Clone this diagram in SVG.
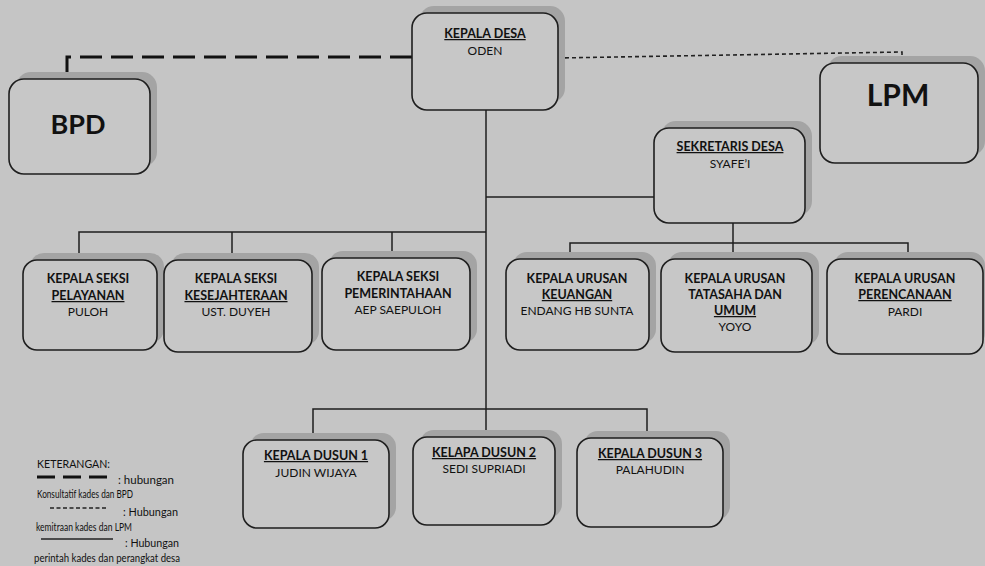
<svg xmlns="http://www.w3.org/2000/svg" width="985" height="566" viewBox="0 0 985 566">
<defs>
<style>
.bg{fill:#c5c5c5}
.sh{fill:#a4a4a4}
.box{fill:#c7c7c7;stroke:#1e1e1e;stroke-width:1.6}
.ln{fill:none;stroke:#1e1e1e;stroke-width:1.5}
.dash{fill:none;stroke:#111;stroke-width:3;stroke-dasharray:22 9}
.dot{fill:none;stroke:#222;stroke-width:1.6;stroke-dasharray:4 3}
text{font-family:Lato,"Liberation Sans",sans-serif;fill:#111;text-anchor:middle}
.b{font-weight:bold;font-size:12.5px}
.n{font-size:12px}
.u{text-decoration:underline}
.big{font-weight:bold;font-size:27px}
.lg{font-size:11px;text-anchor:start}
</style>
</defs>
<rect class="bg" x="0" y="0" width="985" height="566"/>

<g id="connectors">
  <polyline class="dash" points="412,57 67,57 67,79"/>
  <polyline class="dot" points="558,58 902,52 902,63"/>
  <line class="ln" x1="486" y1="110" x2="486" y2="437"/>
  <line class="ln" x1="486" y1="197" x2="654" y2="197"/>
  <polyline class="ln" points="79,260 79,232 486,232"/>
  <line class="ln" x1="232" y1="232" x2="232" y2="260"/>
  <line class="ln" x1="392" y1="232" x2="392" y2="258"/>
  <line class="ln" x1="733" y1="223" x2="733" y2="259"/>
  <polyline class="ln" points="570,259 570,243 908,243 908,259"/>
  <polyline class="ln" points="313,440 313,409 647,409 647,438"/>
</g>

<g id="kepala-desa">
  <rect class="sh" x="419" y="6" width="146" height="97" rx="15"/>
  <rect class="box" x="412" y="13" width="146" height="97" rx="15"/>
  <text class="b u" x="485" y="38">KEPALA DESA</text>
  <text class="n" x="485" y="55">ODEN</text>
</g>

<g id="bpd">
  <rect class="sh" x="16" y="72" width="141" height="95" rx="15"/>
  <rect class="box" x="9" y="79" width="141" height="95" rx="15"/>
  <text class="big" x="78" y="134">BPD</text>
</g>

<g id="lpm">
  <rect class="sh" x="827" y="56" width="158" height="100" rx="15"/>
  <rect class="box" x="820" y="63" width="158" height="100" rx="15"/>
  <text class="big" style="font-size:30px" x="898" y="106">LPM</text>
</g>

<g id="sekretaris-desa">
  <rect class="sh" x="661" y="121" width="151" height="95" rx="15"/>
  <rect class="box" x="654" y="128" width="151" height="95" rx="15"/>
  <text class="b u" x="730" y="151">SEKRETARIS DESA</text>
  <text class="n" x="730" y="168">SYAFE’I</text>
</g>

<g id="kasi-pelayanan">
  <rect class="sh" x="30" y="253" width="134" height="90" rx="14"/>
  <rect class="box" x="23" y="260" width="134" height="90" rx="14"/>
  <text class="b" x="88" y="283">KEPALA SEKSI</text>
  <text class="b u" x="88" y="300">PELAYANAN</text>
  <text class="n" x="88" y="316">PULOH</text>
</g>

<g id="kasi-kesejahteraan">
  <rect class="sh" x="171" y="253" width="148" height="92" rx="14"/>
  <rect class="box" x="164" y="260" width="148" height="92" rx="14"/>
  <text class="b" x="236" y="283">KEPALA SEKSI</text>
  <text class="b u" x="236" y="300">KESEJAHTERAAN</text>
  <text class="n" x="236" y="316">UST. DUYEH</text>
</g>

<g id="kasi-pemerintahan">
  <rect class="sh" x="329" y="251" width="148" height="92" rx="14"/>
  <rect class="box" x="322" y="258" width="148" height="92" rx="14"/>
  <text class="b" x="398" y="281">KEPALA SEKSI</text>
  <text class="b" x="398" y="298">PEMERINTAHAAN</text>
  <text class="n" x="398" y="314">AEP SAEPULOH</text>
</g>

<g id="kaur-keuangan">
  <rect class="sh" x="513" y="252" width="143" height="91" rx="14"/>
  <rect class="box" x="506" y="259" width="143" height="91" rx="14"/>
  <text class="b" x="577" y="283">KEPALA URUSAN</text>
  <text class="b u" x="577" y="299">KEUANGAN</text>
  <text class="n" x="577" y="315">ENDANG HB SUNTA</text>
</g>

<g id="kaur-tatasaha">
  <rect class="sh" x="668" y="252" width="151" height="93" rx="14"/>
  <rect class="box" x="661" y="259" width="151" height="93" rx="14"/>
  <text class="b" x="735" y="283">KEPALA URUSAN</text>
  <text class="b" x="735" y="299">TATASAHA DAN</text>
  <text class="b u" x="735" y="315">UMUM</text>
  <text class="n" x="735" y="331">YOYO</text>
</g>

<g id="kaur-perencanaan">
  <rect class="sh" x="834" y="252" width="151" height="95" rx="14"/>
  <rect class="box" x="827" y="259" width="156" height="95" rx="14"/>
  <text class="b" x="905" y="283">KEPALA URUSAN</text>
  <text class="b u" x="905" y="299">PERENCANAAN</text>
  <text class="n" x="905" y="316">PARDI</text>
</g>

<g id="kadus-1">
  <rect class="sh" x="250" y="433" width="146" height="88" rx="14"/>
  <rect class="box" x="243" y="440" width="146" height="88" rx="14"/>
  <text class="b u" x="316" y="460">KEPALA DUSUN 1</text>
  <text class="n" x="316" y="477">JUDIN WIJAYA</text>
</g>

<g id="kadus-2">
  <rect class="sh" x="420" y="430" width="142" height="88" rx="14"/>
  <rect class="box" x="413" y="437" width="142" height="88" rx="14"/>
  <text class="b u" x="484" y="457">KELAPA DUSUN 2</text>
  <text class="n" x="484" y="473">SEDI SUPRIADI</text>
</g>

<g id="kadus-3">
  <rect class="sh" x="584" y="431" width="146" height="89" rx="14"/>
  <rect class="box" x="577" y="438" width="146" height="89" rx="14"/>
  <text class="b u" x="650" y="458">KEPALA DUSUN 3</text>
  <text class="n" x="650" y="474">PALAHUDIN</text>
</g>

<g id="legend">
  <text class="lg" x="37" y="468" textLength="73" lengthAdjust="spacingAndGlyphs">KETERANGAN:</text>
  <line x1="37" y1="477" x2="108" y2="477" style="stroke:#111;stroke-width:3;stroke-dasharray:18 8"/>
  <text class="lg" x="118" y="484" textLength="56" lengthAdjust="spacingAndGlyphs">: hubungan</text>
  <text class="lg" x="37" y="498" textLength="96" lengthAdjust="spacingAndGlyphs">Konsultatif kades dan BPD</text>
  <line x1="50" y1="508" x2="108" y2="508" style="stroke:#222;stroke-width:1.3;stroke-dasharray:4 2.5"/>
  <text class="lg" x="123" y="516" textLength="55" lengthAdjust="spacingAndGlyphs">: Hubungan</text>
  <text class="lg" x="36" y="531" textLength="96" lengthAdjust="spacingAndGlyphs">kemitraan kades dan LPM</text>
  <line x1="41" y1="539" x2="113" y2="539" style="stroke:#222;stroke-width:1.4"/>
  <text class="lg" x="125" y="547" textLength="54" lengthAdjust="spacingAndGlyphs">: Hubungan</text>
  <text class="lg" x="34" y="562" textLength="146" lengthAdjust="spacingAndGlyphs">perintah kades dan perangkat desa</text>
</g>
</svg>
